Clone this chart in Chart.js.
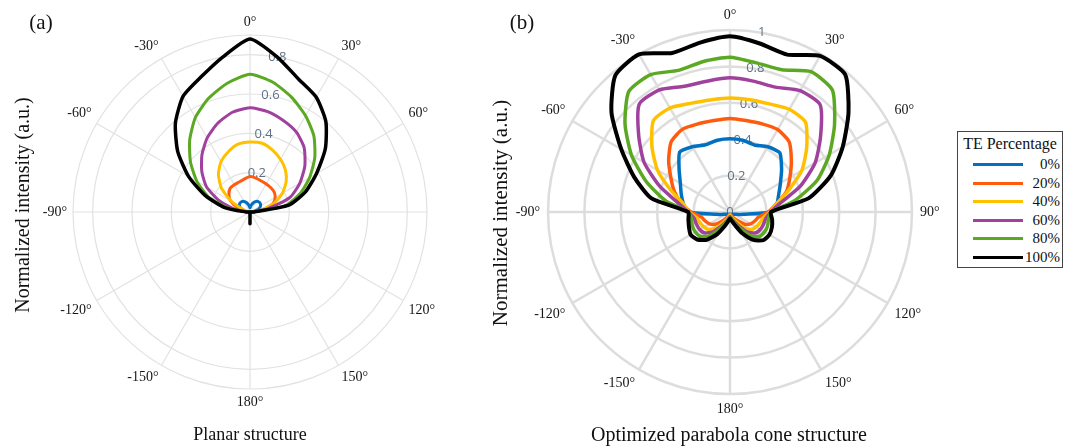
<!DOCTYPE html>
<html>
<head>
<meta charset="utf-8">
<script src="https://cdn.jsdelivr.net/npm/chart.js@4.4.1/dist/chart.umd.min.js"></script>
<style>
  html, body { margin: 0; padding: 0; background: #fff; }
  #wrap { position: relative; width: 1067px; height: 448px; overflow: hidden;
          font-family: "Liberation Serif", "Times New Roman", serif; color: #111; }
  canvas { position: absolute; top: 0; }
  #cvA { left: 0; }
  #cvB { left: 500px; }
  .txt { position: absolute; white-space: nowrap; line-height: 1; transform: translate(-50%, -50%); }
  .ytitle { transform: translate(-50%, -50%) rotate(-90deg); }
  #legend { position: absolute; left: 957px; top: 131px; width: 106px; height: 137px;
            border: 1px solid #444; box-sizing: border-box; background: #fff; }
  #legend .ttl { position: absolute; left: 0; right: 0; top: 4px; text-align: center; font-size: 16px; line-height: 16px; }
  #legend .row { position: absolute; left: 0; right: 0; height: 18px; line-height: 18px; font-size: 15px; }
  #legend .sw { position: absolute; left: 15px; top: 8px; width: 50px; height: 3px; }
  #legend .lab { position: absolute; right: 2px; top: 0; }
</style>
</head>
<body>
<div id="wrap">
  <canvas id="cvA" width="500" height="448"></canvas>
  <canvas id="cvB" width="460" height="448"></canvas>

  <div class="txt" style="left:41px; top:22px; font-size:21px;">(a)</div>
  <div class="txt" style="left:522px; top:22px; font-size:21px;">(b)</div>
  <div class="txt ytitle" style="left:22px; top:205px; font-size:20px;">Normalized intensity (a.u.)</div>
  <div class="txt ytitle" style="left:500px; top:213px; font-size:21px;">Normalized intensity (a.u.)</div>
  <div class="txt" style="left:250px; top:434px; font-size:18px;">Planar structure</div>
  <div class="txt" style="left:729px; top:434px; font-size:20px;">Optimized parabola cone structure</div>

  <div id="legend"><div class="ttl">TE Percentage</div></div>
</div>

<script>
// angle of each radar spoke, degrees clockwise from the top
const angleDegs = [0, 10, 20, 30, 40, 50, 60, 70, 80, 90, 100, 110, 120, 130, 140, 150, 160, 170,
                   180, 190, 200, 210, 220, 230, 240, 250, 260, 270, 280, 290, 300, 310, 320, 330, 340, 350];

// labels for the 30 degree spokes (0, 30, 60 ... 330)
const angleTextA = ['0°', '30°', '60°', '', '120°', '150°', '180°', '-150°', '-120°', '-90°', '-60°', '-30°'];
const angleTextB = ['0°', '30°', '60°', '90°', '120°', '150°', '180°', '-150°', '-120°', '-90°', '-60°', '-30°'];

// radial ticks
const radialTicksA = [0, 0.2, 0.4, 0.6, 0.8, 0.9];
const tickTextA = ['', '0.2', '0.4', '0.6', '0.8', ''];
const radialTicksB = [0, 0.2, 0.4, 0.6, 0.8, 1];
const tickTextB = ['0', '0.2', '0.4', '0.6', '0.8', '1'];

const seriesNames = ['0%', '20%', '40%', '60%', '80%', '100%'];
const seriesColors = ['#0070c0', '#ff5b0f', '#ffc000', '#a0419e', '#5ba823', '#000000'];

// (a) planar structure
const planar0 = [0.02, 0.035, 0.05, 0.062, 0.068, 0.068, 0.062, 0.048, 0.025, 0.005,
  0, 0, 0, 0, 0, 0, 0, 0, 0, 0, 0, 0, 0, 0, 0, 0, 0,
  0.005, 0.025, 0.048, 0.062, 0.068, 0.068, 0.062, 0.05, 0.035];
const planar20 = [0.18, 0.175, 0.168, 0.165, 0.163, 0.16, 0.148, 0.125, 0.07, 0.01,
  0, 0, 0, 0, 0, 0, 0, 0, 0, 0, 0, 0, 0, 0, 0, 0, 0,
  0.01, 0.03, 0.07, 0.115, 0.14, 0.157, 0.16, 0.162, 0.17];
const planar40 = [0.356, 0.355, 0.335, 0.31, 0.28, 0.24, 0.19, 0.13, 0.055, 0.01,
  0, 0, 0, 0, 0, 0, 0, 0, 0, 0, 0, 0, 0, 0, 0, 0, 0,
  0.005, 0.015, 0.04, 0.11, 0.19, 0.25, 0.295, 0.325, 0.35];
const planar60 = [0.53, 0.518, 0.495, 0.47, 0.428, 0.364, 0.292, 0.216, 0.09, 0.01,
  0, 0, 0, 0, 0, 0, 0, 0, 0, 0, 0, 0, 0, 0, 0, 0, 0,
  0.01, 0.08, 0.165, 0.255, 0.32, 0.38, 0.435, 0.48, 0.515];
const planar80 = [0.70, 0.67, 0.62, 0.565, 0.505, 0.43, 0.35, 0.27, 0.18, 0.01,
  0, 0, 0, 0, 0, 0, 0, 0, 0, 0, 0, 0, 0, 0, 0, 0, 0,
  0.01, 0.11, 0.225, 0.312, 0.395, 0.477, 0.555, 0.615, 0.665];
const planar100 = [0.88, 0.80, 0.72, 0.674, 0.60, 0.50, 0.39, 0.30, 0.20, 0.02,
  0, 0, 0, 0, 0, 0, 0, 0, 0.06, 0, 0, 0, 0, 0, 0, 0, 0,
  0.02, 0.13, 0.24, 0.36, 0.48, 0.59, 0.68, 0.73, 0.80];

// (b) optimized parabola cone structure
const cone0 = [0.402, 0.40, 0.392, 0.414, 0.425, 0.37, 0.32, 0.285, 0.262, 0.225,
  0.075, 0.038, 0.026, 0.02, 0.017, 0.015, 0.014, 0.013, 0.015, 0.013, 0.014, 0.015, 0.017, 0.02, 0.026, 0.038, 0.075,
  0.232, 0.26, 0.285, 0.315, 0.365, 0.43, 0.414, 0.393, 0.40];
const cone20 = [0.514, 0.51, 0.515, 0.523, 0.505, 0.44, 0.38, 0.33, 0.26, 0.21,
  0.16, 0.145, 0.13, 0.105, 0.06, 0.035, 0.022, 0.016, 0.013, 0.016, 0.022, 0.035, 0.065, 0.105, 0.13, 0.145, 0.16,
  0.215, 0.27, 0.325, 0.375, 0.44, 0.503, 0.524, 0.515, 0.51];
const cone40 = [0.626, 0.626, 0.632, 0.652, 0.645, 0.55, 0.455, 0.34, 0.26, 0.22,
  0.185, 0.175, 0.165, 0.15, 0.107, 0.055, 0.035, 0.022, 0.017, 0.022, 0.035, 0.06, 0.11, 0.15, 0.165, 0.175, 0.185,
  0.225, 0.26, 0.345, 0.46, 0.56, 0.655, 0.66, 0.635, 0.625];
const cone60 = [0.737, 0.73, 0.73, 0.77, 0.77, 0.65, 0.54, 0.41, 0.28, 0.225,
  0.2, 0.196, 0.192, 0.18, 0.14, 0.08, 0.05, 0.032, 0.025, 0.032, 0.05, 0.085, 0.14, 0.18, 0.192, 0.196, 0.2,
  0.23, 0.29, 0.41, 0.545, 0.655, 0.775, 0.775, 0.735, 0.73];
const cone80 = [0.85, 0.832, 0.832, 0.89, 0.875, 0.75, 0.63, 0.51, 0.36, 0.225,
  0.215, 0.22, 0.219, 0.21, 0.17, 0.095, 0.06, 0.04, 0.03, 0.04, 0.06, 0.1, 0.17, 0.21, 0.22, 0.22, 0.215,
  0.23, 0.36, 0.49, 0.625, 0.753, 0.865, 0.872, 0.828, 0.84];
const cone100 = [0.965, 0.94, 0.92, 0.99, 0.985, 0.85, 0.715, 0.59, 0.44, 0.225,
  0.235, 0.245, 0.25, 0.24, 0.2, 0.135, 0.075, 0.048, 0.035, 0.05, 0.08, 0.14, 0.2, 0.235, 0.25, 0.24, 0.232,
  0.23, 0.44, 0.56, 0.69, 0.85, 0.98, 1.0, 0.93, 0.945];

const planarSeries = [planar0, planar20, planar40, planar60, planar80, planar100];
const coneSeries = [cone0, cone20, cone40, cone60, cone80, cone100];

/**
 * Draws the angle labels and the radial tick labels
 */
function polarTextPlugin(angleText, pad, tickText) {
  return {
    id: 'polarText',
    beforeDatasetsDraw: function(chart) {
      var s = chart.scales.r;
      var ctx = chart.ctx;
      ctx.save();
      ctx.font = '13px "Open Sans", sans-serif';
      ctx.fillStyle = '#5d7186';
      ctx.textAlign = 'center';
      ctx.textBaseline = 'middle';
      s.ticks.forEach(function(t, i) {
        if (!tickText[i]) return;
        var p = s.getPointPosition(1, s.getDistanceFromCenterForValue(t.value));
        ctx.fillText(tickText[i], p.x, p.y);
      });
      ctx.restore();
    },
    afterDraw: function(chart) {
      var s = chart.scales.r;
      var ctx = chart.ctx;
      ctx.save();
      ctx.font = '14px "Liberation Serif", serif';
      ctx.fillStyle = '#151515';
      angleDegs.forEach(function(a, i) {
        if (a % 30 !== 0) return;
        var txt = angleText[a / 30];
        if (!txt) return;
        var p = s.getPointPosition(i, s.drawingArea + pad);
        ctx.textAlign = (a === 0 || a === 180) ? 'center' : (a < 180 ? 'left' : 'right');
        if (a === 90 || a === 270) ctx.textBaseline = 'middle';
        else if (a < 90 || a > 270) ctx.textBaseline = 'bottom';
        else ctx.textBaseline = 'top';
        ctx.fillText(txt, p.x, p.y);
      });
      ctx.restore();
    }
  };
}

function makePolar(canvasId, series, cfg) {
  var datasets = series.map(function(vals, i) {
    return {
      label: seriesNames[i],
      data: vals,
      borderColor: seriesColors[i],
      backgroundColor: 'transparent',
      borderWidth: i === 5 ? cfg.lineWidth + 0.5 : cfg.lineWidth,
      fill: false,
      pointRadius: 0,
      order: 5 - i
    };
  });
  return new Chart(document.getElementById(canvasId), {
    type: 'radar',
    data: { labels: angleDegs, datasets: datasets },
    options: {
      responsive: false,
      animation: false,
      layout: { padding: cfg.padding },
      plugins: { legend: { display: false }, tooltip: { enabled: false } },
      elements: { line: { tension: 0.2, borderJoinStyle: 'round', borderCapStyle: 'round' } },
      scales: {
        r: {
          min: 0,
          max: cfg.max,
          ticks: { display: false, stepSize: 0.2 },
          afterBuildTicks: function(scale) {
            scale.ticks = cfg.ticks.map(function(v) { return { value: v }; });
          },
          pointLabels: { display: false },
          grid: { circular: true, color: cfg.gridColor, lineWidth: cfg.gridWidth },
          angleLines: {
            color: cfg.gridColor,
            lineWidth: function(ctx) { return angleDegs[ctx.index] % 30 === 0 ? cfg.gridWidth : 0; }
          }
        }
      }
    },
    plugins: [polarTextPlugin(cfg.angleText, cfg.labelPad, cfg.tickText)]
  });
}

makePolar('cvA', planarSeries, {
  max: 0.9, ticks: radialTicksA, tickText: tickTextA, angleText: angleTextA,
  padding: { left: 73, right: 73, top: 35, bottom: 59 },
  gridColor: '#e2e2e2', gridWidth: 1.2, lineWidth: 3, labelPad: 6
});

makePolar('cvB', coneSeries, {
  max: 1, ticks: radialTicksB, tickText: tickTextB, angleText: angleTextB,
  padding: { left: 48, right: 48, top: 30, bottom: 54 },
  gridColor: '#dddddd', gridWidth: 2.5, lineWidth: 3.5, labelPad: 8
});

// legend
(function() {
  var box = document.getElementById('legend');
  seriesNames.forEach(function(name, i) {
    var row = document.createElement('div');
    row.className = 'row';
    row.style.top = (23 + i * 18.5) + 'px';
    row.innerHTML = '<span class="sw" style="background:' + seriesColors[i] + '"></span>' +
                    '<span class="lab">' + name + '</span>';
    box.appendChild(row);
  });
})();
</script>
</body>
</html>
